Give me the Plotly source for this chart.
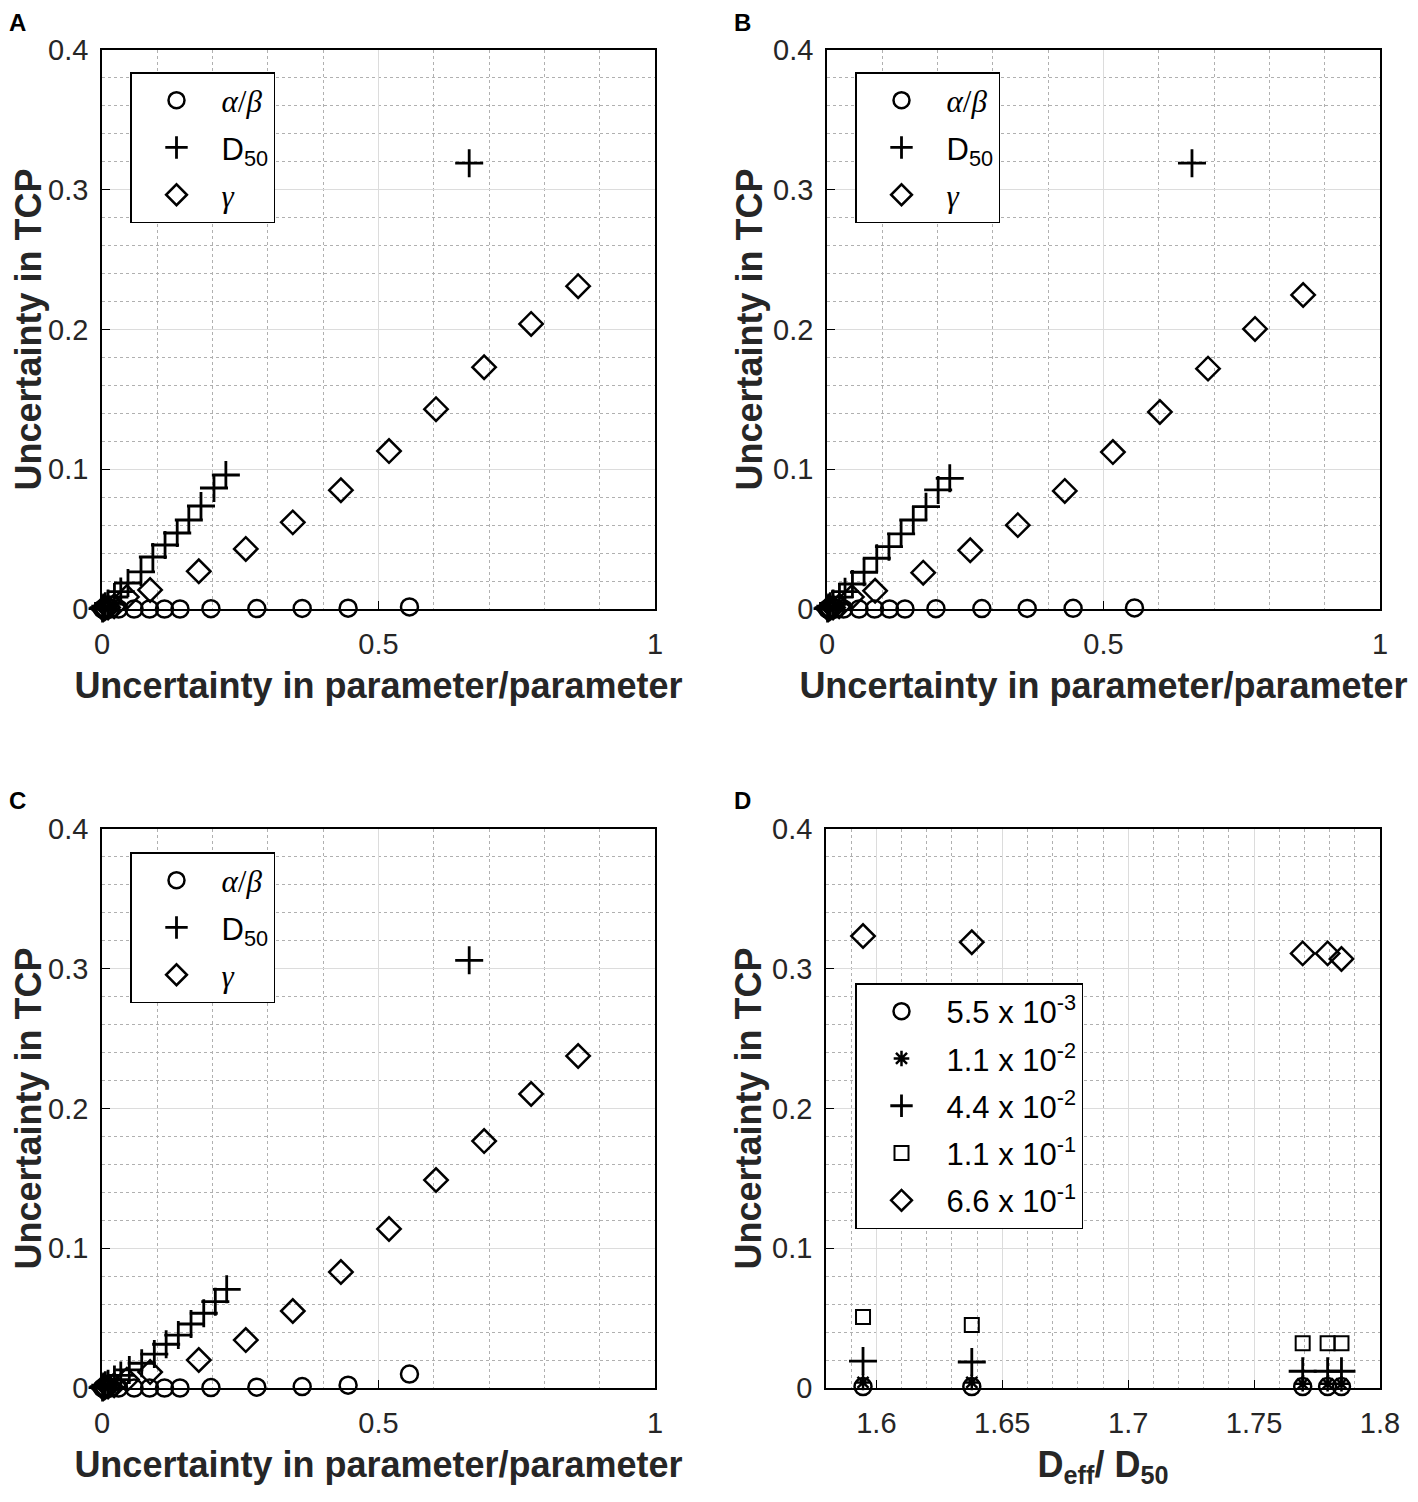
import plotly.graph_objects as go

W, H = 1418, 1502
OFF = 8  # the page adds an 8 px body margin, so work in page pixels minus this

# ---- data ----
# panel A
a_ab_x = [0.001, 0.005, 0.015, 0.030, 0.058, 0.086, 0.113, 0.141, 0.197, 0.280, 0.362, 0.445, 0.556]
a_ab_y = [0.0, 0.0, 0.0, 0.0, 0.0, 0.0, 0.0, 0.0, 0.0002, 0.0003, 0.0004, 0.0006, 0.0015]
a_d50_x = [0.001, 0.003, 0.006, 0.011, 0.0225, 0.034, 0.047, 0.0705, 0.092, 0.114, 0.136, 0.157, 0.179, 0.2025, 0.224, 0.664]
a_d50_y = [0.0003, 0.001, 0.002, 0.004, 0.0086, 0.0125, 0.0186, 0.0265, 0.0372, 0.0458, 0.0544, 0.0637, 0.0737, 0.0866, 0.0959, 0.319]
a_gam_x = [0.002, 0.005, 0.011, 0.022, 0.045, 0.087, 0.175, 0.260, 0.345, 0.432, 0.519, 0.604, 0.691, 0.776, 0.861]
a_gam_y = [0.0002, 0.0005, 0.001, 0.002, 0.0086, 0.0136, 0.027, 0.043, 0.062, 0.085, 0.113, 0.143, 0.173, 0.204, 0.231]

# panel B
b_ab_x = [0.001, 0.005, 0.015, 0.030, 0.058, 0.086, 0.113, 0.141, 0.197, 0.280, 0.362, 0.445, 0.556]
b_ab_y = [0.0, 0.0, 0.0, 0.0, 0.0, 0.0, 0.0, 0.0, 0.0002, 0.0003, 0.0004, 0.0005, 0.0008]
b_d50_x = [0.001, 0.003, 0.006, 0.011, 0.0225, 0.0326, 0.046, 0.067, 0.090, 0.112, 0.134, 0.156, 0.179, 0.201, 0.222, 0.660]
b_d50_y = [0.0003, 0.001, 0.002, 0.004, 0.0085, 0.0124, 0.0179, 0.0263, 0.0363, 0.0446, 0.0537, 0.0637, 0.0732, 0.0852, 0.0935, 0.319]
b_gam_x = [0.002, 0.005, 0.011, 0.022, 0.045, 0.087, 0.174, 0.259, 0.345, 0.430, 0.517, 0.602, 0.689, 0.774, 0.861]
b_gam_y = [0.0002, 0.0005, 0.001, 0.002, 0.0086, 0.013, 0.026, 0.042, 0.060, 0.0845, 0.1123, 0.141, 0.172, 0.2004, 0.2247]

# panel C
c_ab_x = [0.001, 0.005, 0.015, 0.030, 0.058, 0.086, 0.113, 0.141, 0.197, 0.280, 0.362, 0.445, 0.556]
c_ab_y = [0.0, 0.0, 0.0, 0.0, 0.0, 0.0, 0.0, 0.0, 0.0003, 0.0006, 0.001, 0.002, 0.010]
c_d50_x = [0.001, 0.003, 0.006, 0.011, 0.0225, 0.034, 0.0494, 0.0718, 0.0946, 0.116, 0.138, 0.161, 0.184, 0.2049, 0.2255, 0.664]
c_d50_y = [0.0003, 0.001, 0.002, 0.003, 0.006, 0.009, 0.0129, 0.0177, 0.0243, 0.0313, 0.0379, 0.0458, 0.0535, 0.0618, 0.0706, 0.306]
c_gam_x = [0.002, 0.005, 0.011, 0.022, 0.045, 0.087, 0.175, 0.260, 0.345, 0.432, 0.519, 0.604, 0.691, 0.776, 0.861]
c_gam_y = [0.0002, 0.0005, 0.001, 0.002, 0.006, 0.0114, 0.020, 0.0343, 0.0551, 0.083, 0.1138, 0.1488, 0.1767, 0.2104, 0.2376]

# panel D
d_x = [1.5947, 1.6379, 1.7693, 1.7792, 1.7847]
d_s1 = [0.001, 0.001, 0.001, 0.001, 0.001]
d_s2 = [0.004, 0.004, 0.003, 0.003, 0.003]
d_s3 = [0.0193, 0.0186, 0.012, 0.012, 0.012]
d_s4 = [0.0508, 0.045, 0.032, 0.032, 0.032]
d_s5 = [0.3234, 0.319, 0.311, 0.311, 0.307]
d_labels = ["5.5 x 10<sup>-3</sup>", "1.1 x 10<sup>-2</sup>", "4.4 x 10<sup>-2</sup>",
            "1.1 x 10<sup>-1</sup>", "6.6 x 10<sup>-1</sup>"]

param_labels = ["<span style='font-family:Liberation Serif'><i>α</i>/<i>β</i></span>",
                "D<sub>50</sub>",
                "<span style='font-family:Liberation Serif'><i>γ</i></span>"]

FONT = "Liberation Sans"
TXT = "#262626"
TICK_SIZE = 29
TITLE_SIZE = 36
LEGEND_SIZE = 31

# page-pixel boxes of the four plot areas (left, right, top, bottom)
boxes = [(102, 655, 50, 609), (827, 1380, 50, 609), (102, 655, 829, 1388), (826, 1380, 829, 1388)]


def px_x(p):
    return (p - OFF) / W


def px_y(p):
    return 1 - (p - OFF) / H


fig = go.Figure()

circle = dict(symbol="circle-open", size=17, color="black", line=dict(width=2.5, color="black"))
plus = dict(symbol="cross-thin-open", size=20, color="black", line=dict(width=2.8, color="black"))
diamond = dict(symbol="diamond-open", size=18, color="black", line=dict(width=2.5, color="black"))
square = dict(symbol="square-open", size=14, color="black", line=dict(width=2, color="black"))
star = dict(symbol="asterisk-open", size=13, color="black", line=dict(width=2.5, color="black"))

panels = [
    (a_ab_x, a_ab_y, a_d50_x, a_d50_y, a_gam_x, a_gam_y),
    (b_ab_x, b_ab_y, b_d50_x, b_d50_y, b_gam_x, b_gam_y),
    (c_ab_x, c_ab_y, c_d50_x, c_d50_y, c_gam_x, c_gam_y),
]

for i, p in enumerate(panels):
    n = i + 1
    xa = "x" if n == 1 else f"x{n}"
    ya = "y" if n == 1 else f"y{n}"
    lg = "legend" if n == 1 else f"legend{n}"
    for j, (mk, xs, ys) in enumerate([(circle, p[0], p[1]), (plus, p[2], p[3]), (diamond, p[4], p[5])]):
        fig.add_trace(go.Scatter(
            x=xs, y=ys, mode="markers", marker=mk, name=param_labels[j],
            xaxis=xa, yaxis=ya, legend=lg, legendgroup=f"p{n}g{j}", cliponaxis=False,
        ))

for j, (mk, ys) in enumerate([(circle, d_s1), (star, d_s2), (plus, d_s3), (square, d_s4), (diamond, d_s5)]):
    fig.add_trace(go.Scatter(
        x=d_x, y=ys, mode="markers", marker=mk, name=d_labels[j],
        xaxis="x4", yaxis="y4", legend="legend4", legendgroup=f"d{j}", cliponaxis=False,
    ))


def axis_common():
    return dict(
        showline=True, linecolor="black", linewidth=1.5, mirror=True,
        ticks="inside", ticklen=8, tickcolor="black", tickwidth=1.2,
        showgrid=True, gridcolor="#dcdcdc", gridwidth=1.2, zeroline=False,
        tickfont=dict(family=FONT, size=TICK_SIZE, color=TXT),
        automargin=False,
    )


layout = dict(
    width=W, height=H, margin=dict(l=0, r=0, t=0, b=0),
    paper_bgcolor="white", plot_bgcolor="white", showlegend=True,
    font=dict(family=FONT, color=TXT),
)

title_font = dict(family=FONT, size=TITLE_SIZE, color=TXT, weight="bold")
minor_grid = dict(showgrid=True, griddash="dot", gridcolor="#b0b0b0", gridwidth=1.2)
for i, (l, r, t, b) in enumerate(boxes):
    n = i + 1
    xk = "xaxis" if n == 1 else f"xaxis{n}"
    yk = "yaxis" if n == 1 else f"yaxis{n}"
    xa = axis_common()
    ya = axis_common()
    if n < 4:
        xa.update(range=[0, 1], dtick=0.5, tick0=0, minor=dict(dtick=0.1, **minor_grid),
                  title=dict(text="Uncertainty in parameter/parameter", font=title_font, standoff=14))
    else:
        xa.update(range=[1.58, 1.8], dtick=0.05, tick0=1.6, minor=dict(dtick=0.01, **minor_grid),
                  title=dict(text="D<sub>eff</sub>/ D<sub>50</sub>", font=title_font, standoff=14))
    ya.update(range=[0, 0.4], dtick=0.1, tick0=0, minor=dict(dtick=0.02, **minor_grid),
              title=dict(text="Uncertainty in TCP", font=title_font, standoff=0))
    xa.update(domain=[px_x(l), px_x(r)], anchor="y" if n == 1 else f"y{n}", ticklabelstandoff=8)
    ya.update(domain=[px_y(b), px_y(t)], anchor="x" if n == 1 else f"x{n}", ticklabelstandoff=6)
    layout[xk] = xa
    layout[yk] = ya

legend_style = dict(
    bgcolor="white", bordercolor="black", borderwidth=1.5,
    font=dict(family=FONT, size=LEGEND_SIZE, color="black"),
    xanchor="left", yanchor="top", itemwidth=80, tracegroupgap=4,
)
leg_pos = [(130, 72), (855, 72), (130, 852), (855, 983)]
for i, (px, py) in enumerate(leg_pos):
    key = "legend" if i == 0 else f"legend{i + 1}"
    d = dict(legend_style)
    d.update(x=px_x(px), y=px_y(py))
    layout[key] = d

fig.update_layout(**layout)

for letter, (px, py) in zip("ABCD", [(8, 8), (733, 8), (8, 786), (733, 786)]):
    fig.add_annotation(text=f"<b>{letter}</b>", x=px_x(px), y=px_y(py), xref="paper", yref="paper",
                       xanchor="left", yanchor="top", showarrow=False, borderpad=0,
                       font=dict(family=FONT, size=24, color="black"))

fig.write_html("out.html")
